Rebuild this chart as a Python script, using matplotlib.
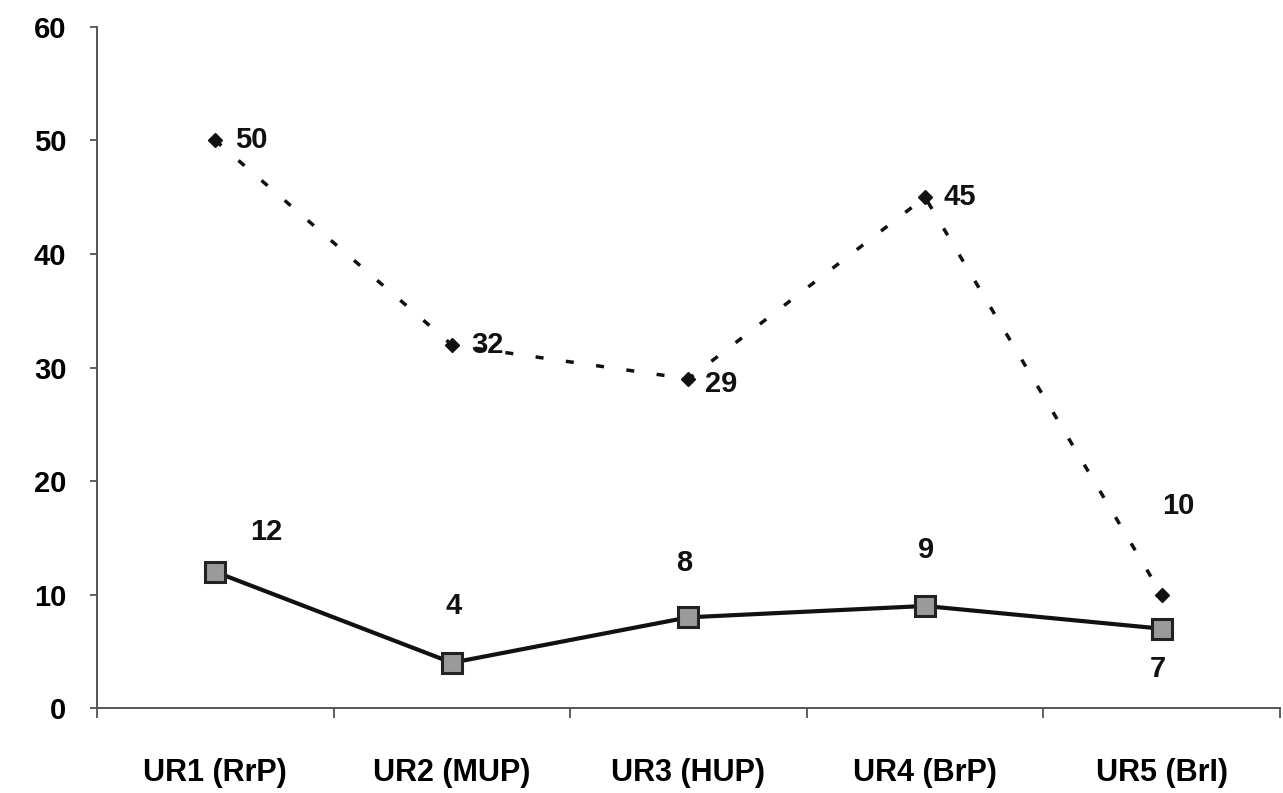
import matplotlib.pyplot as plt

# data
categories = ["UR1 (RrP)", "UR2 (MUP)", "UR3 (HUP)", "UR4 (BrP)", "UR5 (BrI)"]
dashed_vals = [50, 32, 29, 45, 10]
solid_vals = [12, 4, 8, 9, 7]
y_ticks = [0, 10, 20, 30, 40, 50, 60]

# label offsets (points) for each data label
dashed_offsets = [(14, 0), (14, 0), (12, -4), (13, 0), (12, 64)]
solid_offsets = [(37, 29), (1, 41), (-3, 39), (1, 40), (-3, -29)]

plt.rcParams['font.family'] = ['Liberation Sans', 'DejaVu Sans']
FS = 21

fig = plt.figure(figsize=(12.83, 7.93), dpi=100)
ax = fig.add_axes([0.0756, 0.107, 0.922, 0.859])

x = list(range(len(categories)))

ax.plot(x, dashed_vals, color='#111111', linestyle=(0, (2.3, 6.5)), linewidth=2.5,
        marker='D', markersize=7, markerfacecolor='#111111', markeredgecolor='#111111')
ax.plot(x, solid_vals, color='#111111', linestyle='-', linewidth=3,
        marker='s', markersize=15, markerfacecolor='#9a9a9a', markeredgecolor='#222222',
        markeredgewidth=2.2)

for i, v in enumerate(dashed_vals):
    dx, dy = dashed_offsets[i]
    ax.annotate(str(v), (i, v), xytext=(dx, dy), textcoords='offset points',
                ha='left' if abs(dy) < 10 else 'center', va='center',
                fontsize=FS, fontweight='bold', color='#111111')

for i, v in enumerate(solid_vals):
    dx, dy = solid_offsets[i]
    ax.annotate(str(v), (i, v), xytext=(dx, dy), textcoords='offset points',
                ha='center', va='center', fontsize=FS, fontweight='bold', color='#111111')

ax.set_xlim(-0.5, len(categories) - 0.5)
ax.set_ylim(0, 60)
ax.set_yticks(y_ticks)
ax.set_yticklabels([str(t) for t in y_ticks], fontsize=FS, fontweight='bold')

# category ticks on boundaries, labels centred
ax.set_xticks([i + 0.5 for i in range(-1, len(categories))])
ax.set_xticklabels([])
ax.set_xticks(x, minor=True)
ax.set_xticklabels(categories, minor=True, fontsize=22, fontweight='bold')
ax.tick_params(axis='x', which='minor', length=0, pad=36)
ax.tick_params(axis='x', which='major', length=7, width=1.2, color='#444444', direction='out')
ax.tick_params(axis='y', length=5, width=1.2, color='#444444', pad=17)

for s in ['top', 'right']:
    ax.spines[s].set_visible(False)
for s in ['left', 'bottom']:
    ax.spines[s].set_color('#555555')
    ax.spines[s].set_linewidth(1.4)
    ax.spines[s].set_linestyle((0, (3, 1)))

fig.savefig('out.png', dpi=100)
